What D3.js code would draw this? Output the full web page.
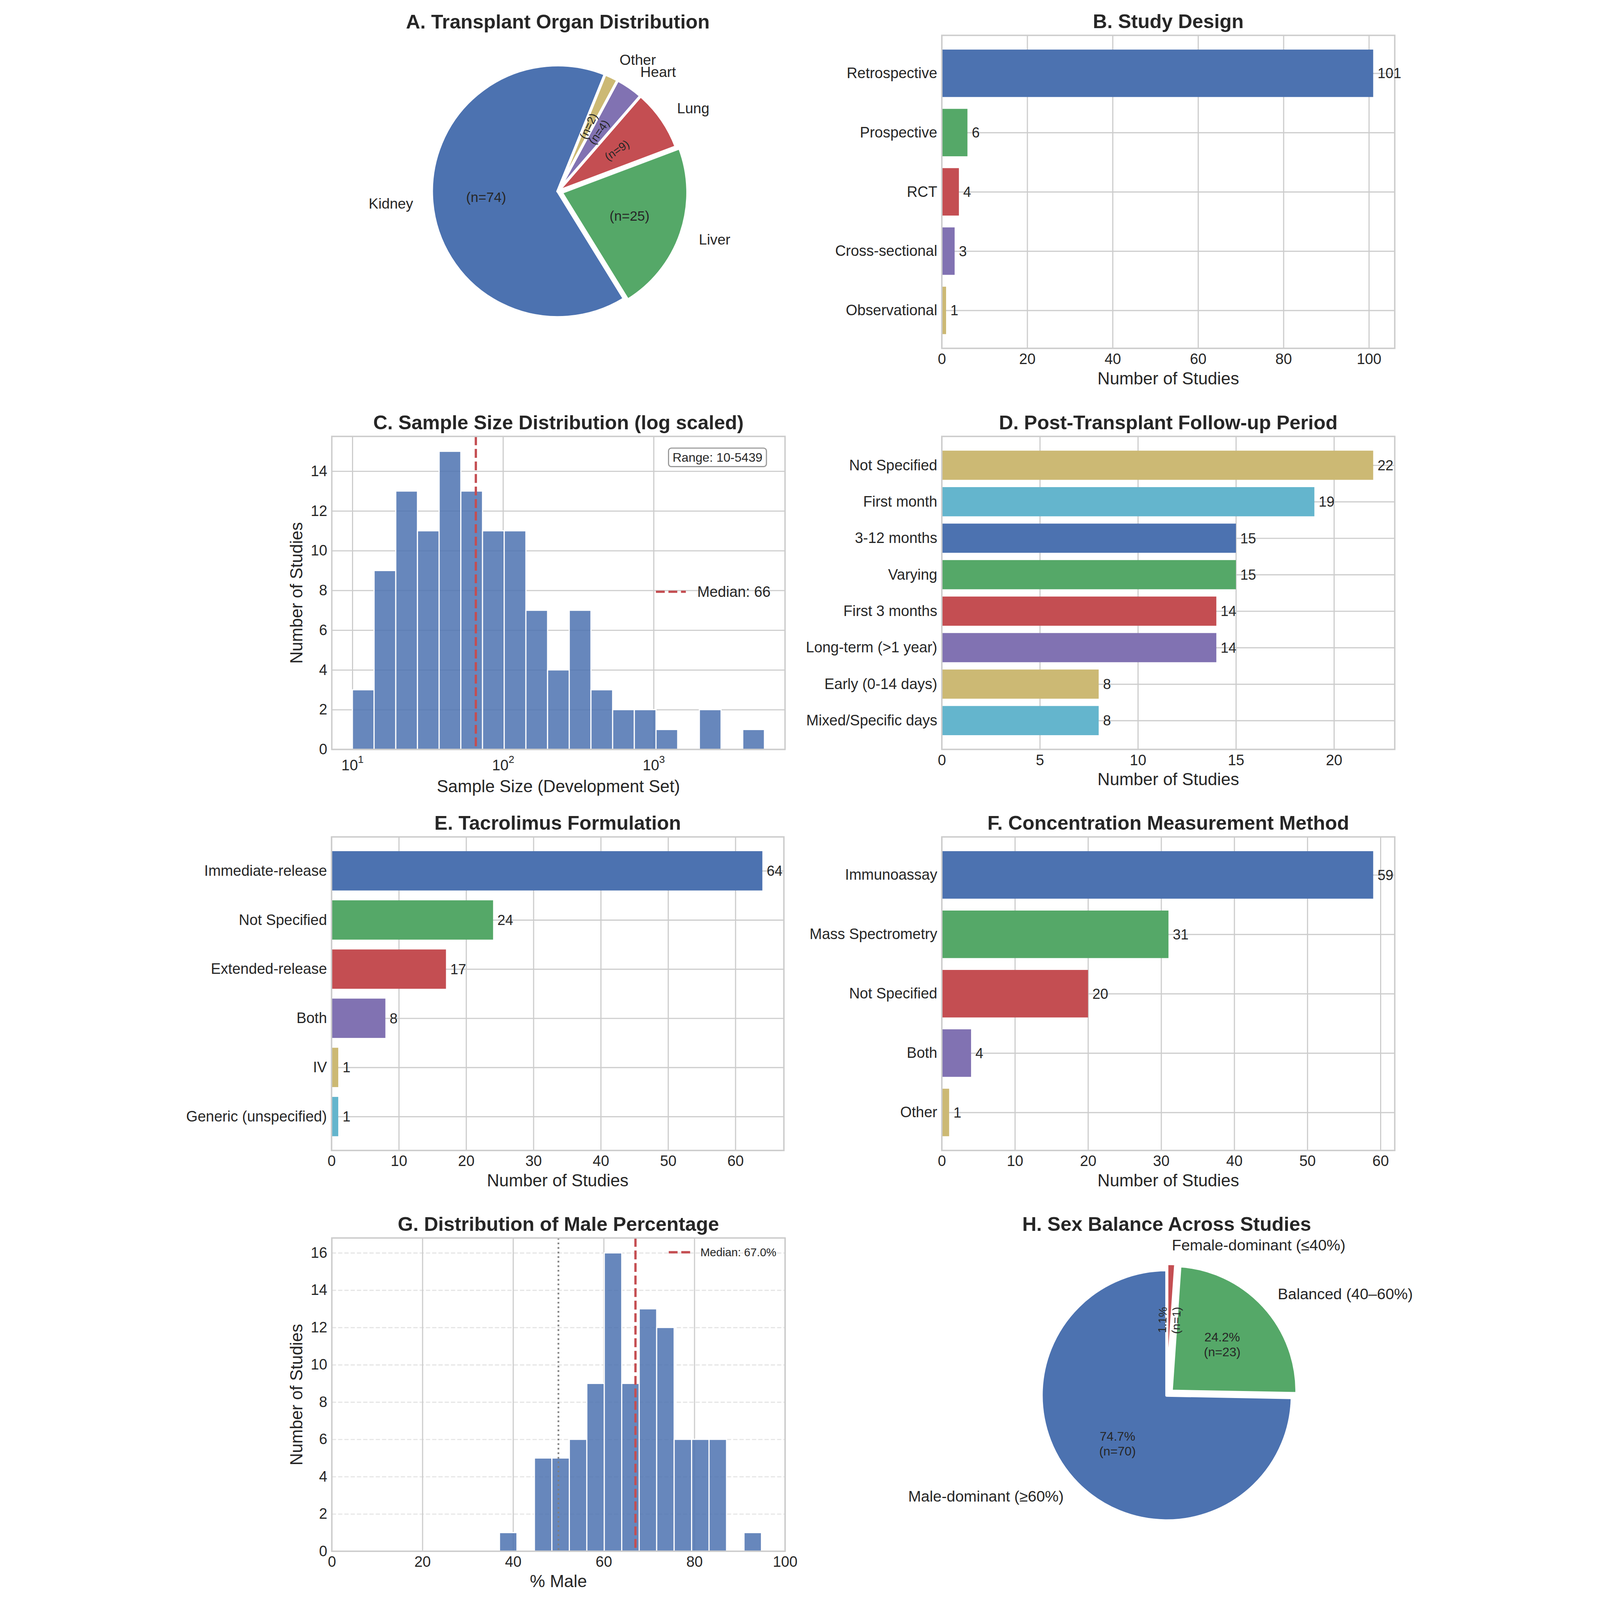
<!DOCTYPE html>
<html lang="en">
<head>
<meta charset="utf-8">
<title>Tacrolimus model studies</title>
<style>
  html, body { margin: 0; padding: 0; background: white; overflow: hidden; }
  svg { display: block; background: white; width: 100vw; height: 100vh; }
  text { font-family: 'Liberation Sans', Arial, Helvetica, sans-serif; fill: #262626; }
</style>
</head>
<body>
<svg viewBox="0 0 4367 5613" preserveAspectRatio="xMidYMin meet"></svg>
<script src="https://cdn.jsdelivr.net/npm/d3@7"></script>
<script>

// ---- data ----
var organLabels = ["Kidney", "Liver", "Lung", "Heart", "Other"];
var organCounts = [74, 25, 9, 4, 2];

var designLabels = ["Retrospective", "Prospective", "RCT", "Cross-sectional", "Observational"];
var designCounts = [101, 6, 4, 3, 1];

var sampleRange = [10, 5439];
var sampleBinCounts = [3, 9, 13, 11, 15, 13, 11, 11, 7, 4, 7, 3, 2, 2, 1, 0, 2, 0, 1];
var sampleMedian = 66;

var followLabels = ["Not Specified", "First month", "3-12 months", "Varying", "First 3 months",
                    "Long-term (>1 year)", "Early (0-14 days)", "Mixed/Specific days"];
var followCounts = [22, 19, 15, 15, 14, 14, 8, 8];

var formLabels = ["Immediate-release", "Not Specified", "Extended-release", "Both", "IV", "Generic (unspecified)"];
var formCounts = [64, 24, 17, 8, 1, 1];

var methodLabels = ["Immunoassay", "Mass Spectrometry", "Not Specified", "Both", "Other"];
var methodCounts = [59, 31, 20, 4, 1];

var maleRange = [37.0, 94.8];
var maleBinCounts = [1, 0, 5, 5, 6, 9, 16, 9, 13, 12, 6, 6, 6, 0, 1];
var maleMedian = 67.0;

var sexLabels = ["Male-dominant (\u226560%)", "Balanced (40\u201360%)", "Female-dominant (\u226440%)"];
var sexPct = [74.7, 24.2, 1.1];
var sexCounts = [70, 23, 1];

// ---- layout ----
var svg = d3.select("svg");
var palette = ["#4C72B0", "#55A868", "#C44E52", "#8172B2", "#CCB974", "#64B5CD"];
var gridColor = "#cccccc";
var histColor = "#4C72B0";
var colL = [541, 2131], colR = [2681, 4270];
var rows = [[124, 1222], [1531, 2629], [2936, 4036], [4343, 5442]];
var fs = {title: 69, tick: 52, label: 60, value: 50};

function box(col, row) { return {x0: col[0], x1: col[1], y0: row[0], y1: row[1]}; }
function rad(d) { return d * Math.PI / 180; }

function addTitle(t, cx, y) {
    svg.append("text").attr("x", cx).attr("y", y).attr("text-anchor", "middle")
        .style("font-size", fs.title + "px").style("font-weight", "bold").text(t);
}
function xLabel(b, t, off) {
    svg.append("text").attr("x", (b.x0 + b.x1) / 2).attr("y", b.y1 + off)
        .attr("text-anchor", "middle").style("font-size", fs.label + "px").text(t);
}
function yLabel(b, t) {
    var cy = (b.y0 + b.y1) / 2, x = b.x0 - 103;
    svg.append("text").attr("transform", "translate(" + x + "," + cy + ")rotate(-90)")
        .attr("text-anchor", "middle").style("font-size", fs.label + "px").text(t);
}
function drawFrame(b) {
    svg.append("rect").attr("x", b.x0).attr("y", b.y0)
        .attr("width", b.x1 - b.x0).attr("height", b.y1 - b.y0)
        .attr("fill", "none").attr("stroke", gridColor).attr("stroke-width", 5);
}
function styleAxis(g, size) {
    g.select(".domain").remove();
    g.selectAll(".tick line").remove();
    g.selectAll(".tick text").style("font-size", size + "px");
}
function xGrid(b, x, ticks) {
    var g = svg.append("g").attr("transform", "translate(0," + b.y1 + ")")
        .call(d3.axisBottom(x).tickValues(ticks).tickSize(-(b.y1 - b.y0)).tickFormat(""));
    g.select(".domain").remove();
    g.selectAll(".tick line").attr("stroke", gridColor).attr("stroke-width", 4);
    return g;
}
function yGrid(b, y, ticks) {
    var g = svg.append("g").attr("transform", "translate(" + b.x0 + ",0)")
        .call(d3.axisLeft(y).tickValues(ticks).tickSize(-(b.x1 - b.x0)).tickFormat(""));
    g.select(".domain").remove();
    g.selectAll(".tick line").attr("stroke", gridColor).attr("stroke-width", 4);
    return g;
}

// horizontal bar panel
function barPanel(b, title, labels, values, colorOffset, xTicks) {
    var n = labels.length, vmax = d3.max(values);
    var x = d3.scaleLinear().domain([0, vmax * 1.05]).range([b.x0, b.x1]);
    var m = 0.05 * (n - 0.2);
    var y = d3.scaleLinear().domain([-0.4 - m, n - 0.6 + m]).range([b.y0, b.y1]);
    xGrid(b, x, xTicks);
    yGrid(b, y, d3.range(n));
    svg.append("g").selectAll("rect").data(values).join("rect")
        .attr("x", x(0))
        .attr("y", function(d, i) { return y(i - 0.4); })
        .attr("width", function(d) { return x(d) - x(0); })
        .attr("height", function(d, i) { return y(i + 0.4) - y(i - 0.4); })
        .attr("fill", function(d, i) { return palette[(i + colorOffset) % 6]; });
    drawFrame(b);
    svg.append("g").selectAll("text").data(values).join("text")
        .attr("x", function(d) { return x(d + vmax * 0.01); })
        .attr("y", function(d, i) { return y(i); })
        .attr("dy", "0.35em").style("font-size", fs.value + "px")
        .text(function(d) { return d; });
    var gx = svg.append("g").attr("transform", "translate(0," + b.y1 + ")")
        .call(d3.axisBottom(x).tickValues(xTicks).tickSize(0).tickPadding(18));
    styleAxis(gx, fs.tick);
    var gy = svg.append("g").attr("transform", "translate(" + b.x0 + ",0)")
        .call(d3.axisLeft(y).tickValues(d3.range(n)).tickFormat(function(i) { return labels[i]; })
            .tickSize(0).tickPadding(16));
    styleAxis(gy, fs.tick);
    xLabel(b, "Number of Studies", 126);
    addTitle(title, (b.x0 + b.x1) / 2, b.y0 - 25);
}

// pie panel (matplotlib style: counter-clockwise from startDeg)
function piePanel(cx, cy, r, title, titleY, values, labels, pctText, explode, startDeg, pctDist, labelSize, pctSize, smallSize) {
    var total = d3.sum(values);
    var s0 = rad(90 - startDeg);
    var arcs = d3.pie().sort(null).startAngle(s0).endAngle(s0 - 2 * Math.PI)(values);
    var arc = d3.arc().innerRadius(0).outerRadius(r);
    var g = svg.append("g");
    arcs.forEach(function(a, i) {
        var mid = (a.startAngle + a.endAngle) / 2;
        var ux = Math.sin(mid), uy = -Math.cos(mid);
        var ox = cx + explode[i] * r * ux, oy = cy + explode[i] * r * uy;
        g.append("path").attr("d", arc(a))
            .attr("transform", "translate(" + ox + "," + oy + ")")
            .attr("fill", palette[i]).attr("stroke", "white").attr("stroke-width", 10)
            .attr("stroke-linejoin", "round");
        // outer label
        g.append("text").attr("x", ox + 1.15 * r * ux).attr("y", oy + 1.15 * r * uy)
            .attr("dy", "0.35em").attr("text-anchor", ux >= 0 ? "start" : "end")
            .style("font-size", labelSize + "px").text(labels[i]);
        // inner label
        var px = ox + pctDist * r * ux, py = oy + pctDist * r * uy;
        var small = values[i] / total < 0.1;
        var t = g.append("text").attr("x", px).attr("y", py).attr("text-anchor", "middle")
            .style("font-size", (small ? smallSize : pctSize) + "px");
        var lines = pctText[i];
        lines.forEach(function(s, k) {
            t.append("tspan").attr("x", px)
                .attr("dy", k === 0 ? (0.35 - 0.6 * (lines.length - 1)) + "em" : "1.2em").text(s);
        });
        if (small) {
            var theta = 90 - mid * 180 / Math.PI;
            theta = ((theta % 360) + 360) % 360;
            if (theta > 90 && theta < 270) theta -= 180;
            if (theta >= 270) theta -= 360;
            t.attr("transform", "rotate(" + (-theta) + "," + px + "," + py + ")");
        }
    });
    addTitle(title, cx, titleY);
}

// ---- A. organ pie ----
piePanel(1334, 671, 443, "A. Transplant Organ Distribution", 100,
    organCounts, organLabels,
    organCounts.map(function(c) { return ["(n=" + c + ")"]; }),
    [0, 0.03, 0, 0, 0], 68, 0.57, 51, 48, 40);

// ---- B. study design ----
barPanel(box(colR, rows[0]), "B. Study Design", designLabels, designCounts, 0, d3.range(0, 101, 20));

// ---- C. sample size histogram ----
(function() {
    var b = box(colL, rows[1]);
    var lo = Math.log10(sampleRange[0]), hi = Math.log10(sampleRange[1]), span = hi - lo;
    var nb = sampleBinCounts.length;
    var x = d3.scaleLog().domain([Math.pow(10, lo - 0.05 * span), Math.pow(10, hi + 0.05 * span)])
        .range([b.x0, b.x1]);
    var y = d3.scaleLinear().domain([0, d3.max(sampleBinCounts) * 1.05]).range([b.y1, b.y0]);
    var bins = sampleBinCounts.map(function(c, i) {
        return {lo: Math.pow(10, lo + i * span / nb), hi: Math.pow(10, lo + (i + 1) * span / nb), c: c};
    });
    xGrid(b, x, [10, 100, 1000]);
    yGrid(b, y, d3.range(0, 15, 2));
    svg.append("g").selectAll("rect").data(bins.filter(function(d) { return d.c > 0; })).join("rect")
        .attr("x", function(d) { return x(d.lo); })
        .attr("width", function(d) { return x(d.hi) - x(d.lo); })
        .attr("y", function(d) { return y(d.c); })
        .attr("height", function(d) { return y(0) - y(d.c); })
        .attr("fill", histColor).attr("fill-opacity", 0.85)
        .attr("stroke", "white").attr("stroke-width", 4);
    svg.append("line").attr("x1", x(sampleMedian)).attr("x2", x(sampleMedian))
        .attr("y1", b.y0).attr("y2", b.y1)
        .attr("stroke", "#C44E52").attr("stroke-width", 8).attr("stroke-dasharray", "31,13");
    drawFrame(b);
    var gx = svg.append("g").attr("transform", "translate(0," + b.y1 + ")")
        .call(d3.axisBottom(x).tickValues([10, 100, 1000]).tickSize(0).tickPadding(37).tickFormat(""));
    styleAxis(gx, fs.tick);
    gx.selectAll(".tick text").each(function(d) {
        var t = d3.select(this).text("10");
        t.append("tspan").attr("dy", "-0.75em").style("font-size", "36px").text(Math.round(Math.log10(d)));
    });
    var gy = svg.append("g").attr("transform", "translate(" + b.x0 + ",0)")
        .call(d3.axisLeft(y).tickValues(d3.range(0, 15, 2)).tickSize(0).tickPadding(16));
    styleAxis(gy, fs.tick);
    // legend
    var ly = (b.y0 + b.y1) / 2 - 4;
    svg.append("line").attr("x1", b.x1 - 453).attr("x2", b.x1 - 348).attr("y1", ly).attr("y2", ly)
        .attr("stroke", "#C44E52").attr("stroke-width", 8).attr("stroke-dasharray", "31,13");
    svg.append("text").attr("x", b.x1 - 308).attr("y", ly).attr("dy", "0.35em")
        .style("font-size", "52px").text("Median: " + sampleMedian);
    // range box
    var rt = svg.append("text").attr("x", b.x1 - 237).attr("y", b.y0 + 73)
        .attr("dy", "0.35em").attr("text-anchor", "middle").style("font-size", "44px")
        .text("Range: " + sampleRange[0] + "-" + sampleRange[1]);
    var bb = rt.node().getBBox();
    svg.insert("rect", function() { return rt.node(); })
        .attr("x", bb.x - 14).attr("y", b.y0 + 41).attr("width", bb.width + 28).attr("height", 65)
        .attr("rx", 10).attr("fill", "white").attr("stroke", "#999999").attr("stroke-width", 4);
    xLabel(b, "Sample Size (Development Set)", 150);
    yLabel(b, "Number of Studies");
    addTitle("C. Sample Size Distribution (log scaled)", (b.x0 + b.x1) / 2, b.y0 - 25);
})();

// ---- D. follow-up ----
barPanel(box(colR, rows[1]), "D. Post-Transplant Follow-up Period", followLabels, followCounts, 4, d3.range(0, 21, 5));

// ---- E. formulation ----
barPanel({x0: 540, x1: 2127, y0: rows[2][0], y1: rows[2][1]}, "E. Tacrolimus Formulation",
    formLabels, formCounts, 0, d3.range(0, 61, 10));

// ---- F. measurement ----
barPanel(box(colR, rows[2]), "F. Concentration Measurement Method", methodLabels, methodCounts, 0, d3.range(0, 61, 10));

// ---- G. male percentage histogram ----
(function() {
    var b = box(colL, rows[3]);
    var nb = maleBinCounts.length, w = (maleRange[1] - maleRange[0]) / nb;
    var x = d3.scaleLinear().domain([0, 100]).range([b.x0, b.x1]);
    var y = d3.scaleLinear().domain([0, d3.max(maleBinCounts) * 1.05]).range([b.y1, b.y0]);
    var bins = maleBinCounts.map(function(c, i) {
        return {lo: maleRange[0] + i * w, hi: maleRange[0] + (i + 1) * w, c: c};
    });
    xGrid(b, x, d3.range(0, 101, 20));
    var gg = yGrid(b, y, d3.range(0, 17, 2));
    gg.selectAll(".tick line").attr("stroke-dasharray", "15,7").attr("stroke-opacity", 0.5);
    svg.append("g").selectAll("rect").data(bins.filter(function(d) { return d.c > 0; })).join("rect")
        .attr("x", function(d) { return x(d.lo); })
        .attr("width", function(d) { return x(d.hi) - x(d.lo); })
        .attr("y", function(d) { return y(d.c); })
        .attr("height", function(d) { return y(0) - y(d.c); })
        .attr("fill", histColor).attr("fill-opacity", 0.85)
        .attr("stroke", "white").attr("stroke-width", 4);
    svg.append("line").attr("x1", x(50)).attr("x2", x(50)).attr("y1", b.y0).attr("y2", b.y1)
        .attr("stroke", "#808080").attr("stroke-width", 6).attr("stroke-dasharray", "6,10");
    svg.append("line").attr("x1", x(maleMedian)).attr("x2", x(maleMedian)).attr("y1", b.y0).attr("y2", b.y1)
        .attr("stroke", "#C44E52").attr("stroke-width", 8).attr("stroke-dasharray", "31,13");
    drawFrame(b);
    var gx = svg.append("g").attr("transform", "translate(0," + b.y1 + ")")
        .call(d3.axisBottom(x).tickValues(d3.range(0, 101, 20)).tickSize(0).tickPadding(18));
    styleAxis(gx, fs.tick);
    var gy = svg.append("g").attr("transform", "translate(" + b.x0 + ",0)")
        .call(d3.axisLeft(y).tickValues(d3.range(0, 17, 2)).tickSize(0).tickPadding(16));
    styleAxis(gy, fs.tick);
    var ly = b.y0 + 50;
    svg.append("line").attr("x1", b.x1 - 408).attr("x2", b.x1 - 328).attr("y1", ly).attr("y2", ly)
        .attr("stroke", "#C44E52").attr("stroke-width", 8).attr("stroke-dasharray", "31,13");
    svg.append("text").attr("x", b.x1 - 297).attr("y", ly).attr("dy", "0.35em")
        .style("font-size", "40px").text("Median: " + maleMedian.toFixed(1) + "%");
    xLabel(b, "% Male", 126);
    yLabel(b, "Number of Studies");
    addTitle("G. Distribution of Male Percentage", (b.x0 + b.x1) / 2, b.y0 - 25);
})();

// ---- H. sex balance pie ----
piePanel(3470, 4895, 440, "H. Sex Balance Across Studies", 4318,
    sexPct, sexLabels,
    sexPct.map(function(p, i) { return [p.toFixed(1) + "%", "(n=" + sexCounts[i] + ")"]; }),
    [0, 0.05, 0.05], 90, 0.55, 54, 44, 40);

</script>
</body>
</html>
